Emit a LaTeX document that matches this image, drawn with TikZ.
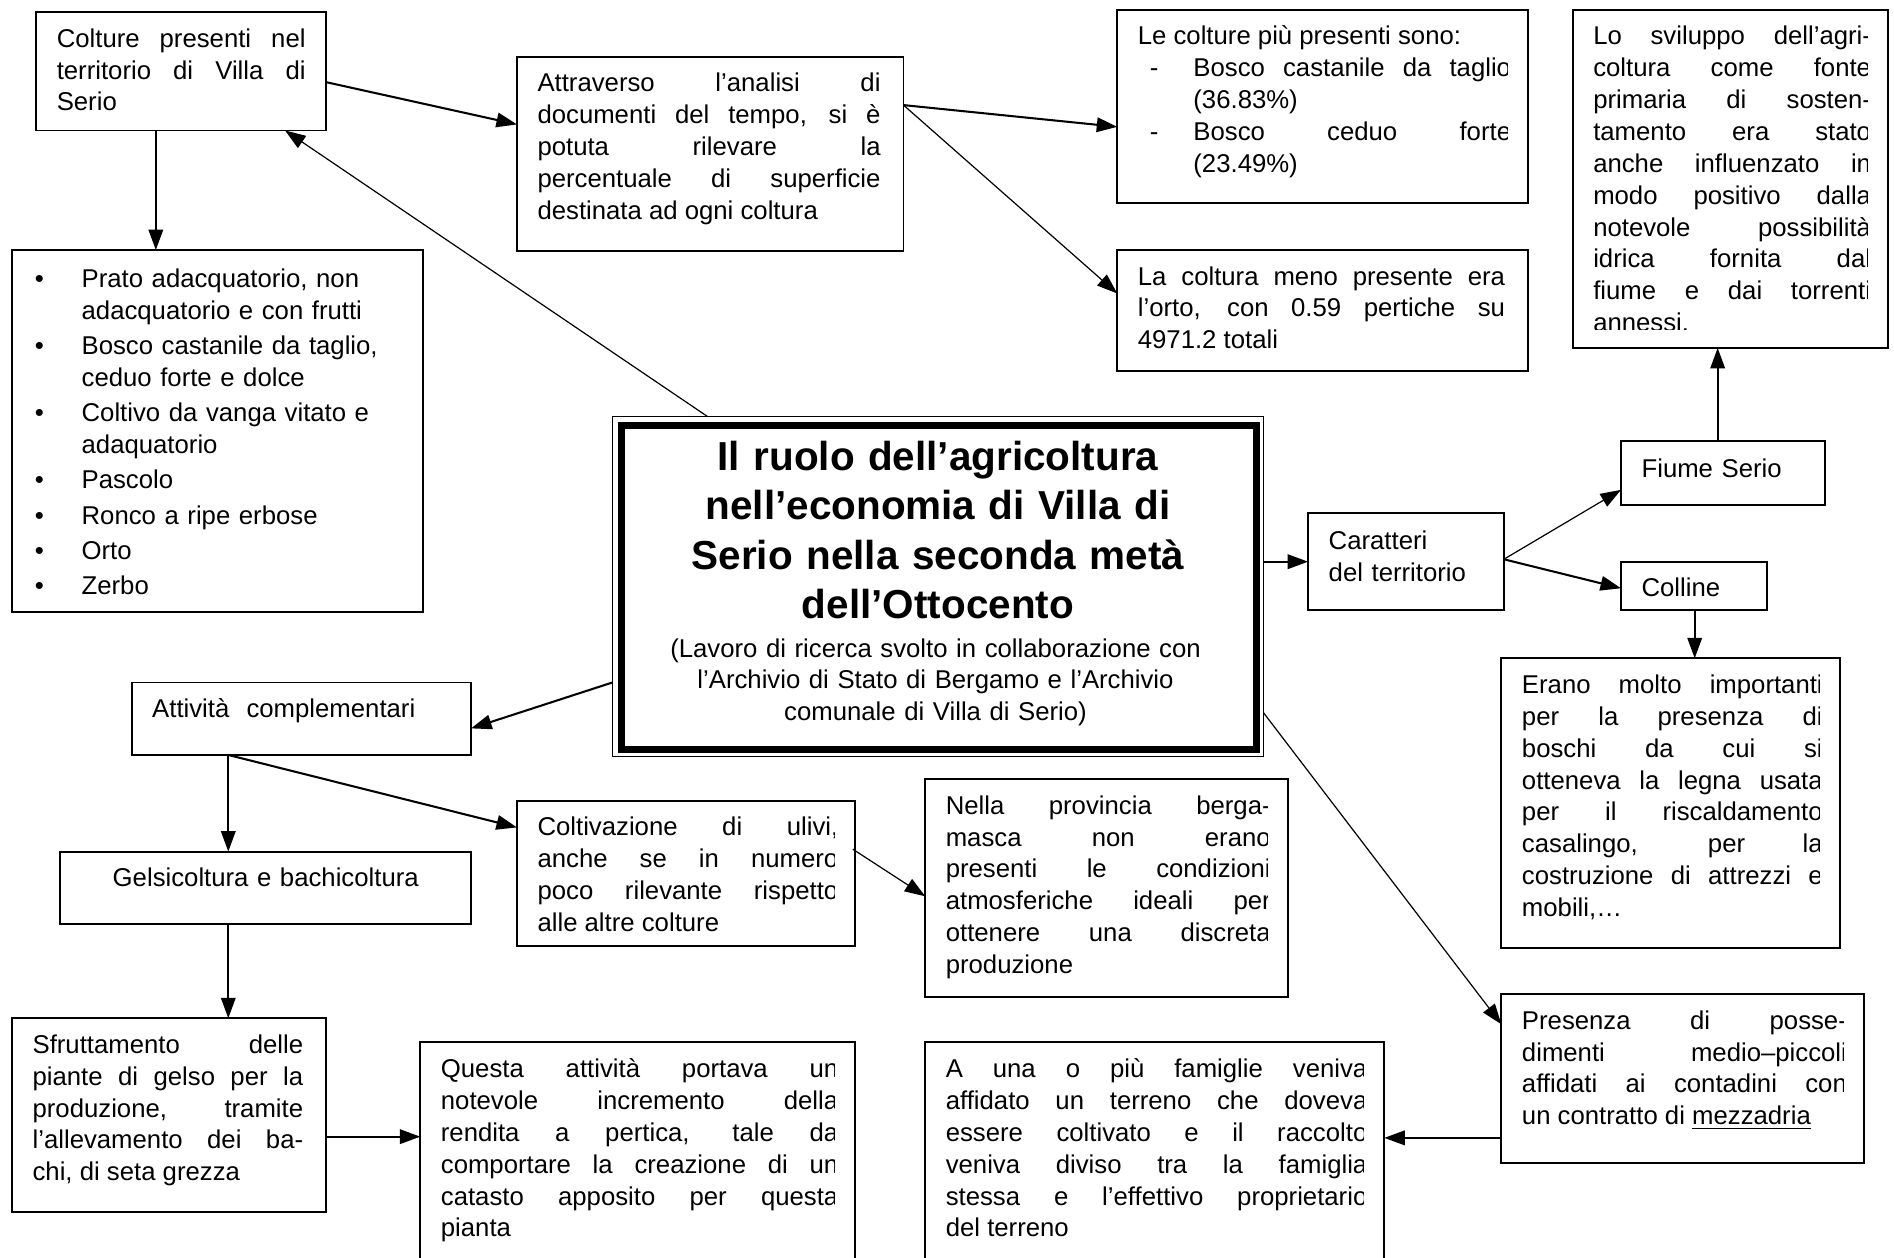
\documentclass[tikz,border=0pt]{standalone}
\usepackage{fontspec}
\setmainfont{Liberation Sans}
\usetikzlibrary{arrows.meta,calc}
\newcommand\bodyfont{\fontsize{10.65}{13.2}\selectfont}
\newcommand\titlefont{\fontsize{16.75}{20.5}\selectfont\bfseries}
\newcommand\jset{\parindent=0pt\tolerance=10000\hyphenpenalty=10000\exhyphenpenalty=10000\hbadness=10000}
\tikzset{
  bx/.style={draw, line width=0.8pt, inner sep=0pt, outer sep=0pt, rectangle, anchor=north west},
  tx/.style={inner sep=0pt, outer sep=0pt, anchor=north west, font=\bodyfont\jset, align=justify},
  arr/.style={line width=0.85pt, -{Triangle[length=8.5pt,width=6pt]}},
  thinarr/.style={arr, line width=0.5pt},
}
% #1 opts, #2 name, #3 x1, #4 y1, #5 x2, #6 y2, #7 text width (px), #8 bottom clip inset, #9 text
\newcommand\tb[9][]{%
  \pgfmathsetmacro\tbmw{(#5-#3)*0.5}%
  \pgfmathsetmacro\tbmh{(#6-#4)*0.5}%
  \pgfmathsetmacro\tbtw{(#7)*0.5}%
  \node[bx, minimum width=\tbmw pt, minimum height=\tbmh pt] (#2) at (#3,#4) {};
  \begin{scope}
    \clip (#3+6,#4+2) rectangle (#5-17,#6-#8);
    \node[tx, text width=\tbtw pt, #1] (#2t) at (#3+17,#4) {\rule{0pt}{14.5pt}#9};
  \end{scope}}
\newcommand\bul{\noindent\llap{\makebox[19.4pt][l]{•}}}
\newcommand\dsh{\noindent\llap{\makebox[18pt][l]{-}}}
\begin{document}
\begin{tikzpicture}[x=0.5pt,y=-0.5pt]
\fill[white] (0,0) rectangle (1568,1041);
\useasboundingbox (0,0) rectangle (1568,1041);

\tb{A}{30}{10}{270}{108}{206}{2}{Colture presenti nel\linebreak territorio di Villa di\linebreak Serio}
\tb{B}{428}{47}{748}{208}{284}{2}{Attraverso l’analisi di\linebreak documenti del tempo, si è\linebreak potuta rilevare la\linebreak percentuale di superficie\linebreak destinata ad ogni coltura}
\tb{C}{925}{8}{1265}{168}{309}{2}{Le colture più presenti sono:\par
  \leftskip=23pt \dsh Bosco castanile da taglio\linebreak (36.83\%)\par
  \dsh Bosco ceduo forte\linebreak (23.49\%)\par}
\tb{D}{1302}{8}{1563}{288}{230}{15}{Lo sviluppo dell’agri-\linebreak coltura come fonte\linebreak primaria di sosten-\linebreak tamento era stato\linebreak anche influenzato in\linebreak modo positivo dalla\linebreak notevole possibilità\linebreak idrica fornita dal\linebreak fiume e dai torrenti\linebreak annessi.}
\tb{E}{925}{207}{1265}{307}{304}{2}{La coltura meno presente era\linebreak l’orto, con 0.59 pertiche su\linebreak 4971.2 totali}
\tb[align=left]{F}{10}{207}{350}{507}{320}{2}{\rule{0pt}{15.5pt}\leftskip=20.3pt\parskip=1.4pt
  \bul Prato adacquatorio, non\newline adacquatorio e con frutti\par
  \bul Bosco castanile da taglio,\newline ceduo forte e dolce\par
  \bul Coltivo da vanga vitato e\newline adaquatorio\par
  \bul Pascolo\par
  \bul Ronco a ripe erbose\par
  \bul Orto\par
  \bul Zerbo\par}
\tb[align=left]{H}{1083}{425}{1245}{505}{126}{2}{\rule{0pt}{15pt}Caratteri\newline del territorio}
\tb[align=left]{I}{1342}{365}{1511}{418}{133}{2}{\rule{0pt}{15pt}Fiume Serio}
\tb[align=left]{J}{1342}{465}{1463}{505}{85}{2}{Colline}
\tb{K}{1243}{545}{1523}{785}{249}{2}{Erano molto importanti\linebreak per la presenza di\linebreak boschi da cui si\linebreak otteneva la legna usata\linebreak per il riscaldamento\linebreak casalingo, per la\linebreak costruzione di attrezzi e\linebreak mobili,…}
\tb[align=left]{L}{109}{565}{390}{625}{245}{2}{Attività~ complementari}
\tb[align=center]{M}{50}{705}{390}{765}{306}{2}{Gelsicoltura e bachicoltura}
\tb{N}{428}{663}{708}{783}{249}{2}{Coltivazione di ulivi,\linebreak anche se in numero\linebreak poco rilevante rispetto\linebreak alle altre colture}
\tb{O}{766}{645}{1066}{825}{269}{2}{Nella provincia berga-\linebreak masca non erano\linebreak presenti le condizioni\linebreak atmosferiche ideali per\linebreak ottenere una discreta\linebreak produzione}
\tb{P}{10}{843}{270}{1003}{224}{2}{Sfruttamento delle\linebreak piante di gelso per la\linebreak produzione, tramite\linebreak l’allevamento dei ba-\linebreak chi, di seta grezza}
\tb{Q}{348}{863}{708}{1060}{329}{2}{Questa attività portava un\linebreak notevole incremento della\linebreak rendita a pertica, tale da\linebreak comportare la creazione di un\linebreak catasto apposito per questa\linebreak pianta}
\tb{R}{766}{863}{1146}{1060}{349}{2}{A una o più famiglie veniva\linebreak affidato un terreno che doveva\linebreak essere coltivato e il raccolto\linebreak veniva diviso tra la famiglia\linebreak stessa e l’effettivo proprietario\linebreak del terreno}
\tb{S}{1243}{823}{1543}{963}{269}{2}{Presenza di posse-\linebreak dimenti medio–piccoli\linebreak affidati ai contadini con\linebreak un contratto di \underline{mezzadria}}

% central box
\node[draw, line width=0.5pt, inner sep=0pt, outer sep=0pt, anchor=north west,
      minimum width=269.5pt, minimum height=140.5pt] (G) at (507,345) {};
\draw[line width=2.9pt] ($(G.north west)+(7.5,7)$) rectangle ($(G.south east)+(-5.5,-5.5)$);
\node[font=\titlefont, align=center, text width=250pt, anchor=north, inner sep=0pt] (Gt) at (G.north)
  {\rule{0pt}{22pt}Il ruolo dell’agricoltura\\ nell’economia di Villa di\\ Serio nella seconda metà\\ dell’Ottocento};
\node[font=\bodyfont, align=center, text width=250pt, anchor=north, inner sep=0pt] (Gs) at ($(G.north)+(-2,169.5)$)
  {\rule{0pt}{14.5pt}(Lavoro di ricerca svolto in collaborazione con\\ l’Archivio di Stato di Bergamo e l’Archivio\\ comunale di Villa di Serio)};

% connectors
\draw[arr] ($(A.east)+(0,9)$) -- ($(B.west)+(0,-24.5)$);
\coordinate (a2) at ($(A.south)+(-21,0)$);
\draw[arr] (a2) -- (a2 |- F.north);
\draw[thinarr] ($(G.north)+(-190.5,0)$) -- ($(A.south)+(86,0)$);
\coordinate (b4) at ($(B.east)+(0,-40.5)$);
\draw[arr] (b4) -- ($(C.west)+(0,17)$);
\draw[thinarr] (b4) -- ($(E.west)+(0,-14)$);
\coordinate (g6) at ($(G.east)+(0,-20.5)$);
\draw[arr] (g6) -- (g6 -| H.west);
\draw[thinarr] ($(H.east)+(0,-2)$) -- ($(I.west)+(0,14)$);
\draw[arr] ($(H.east)+(0,-2)$) -- ($(J.west)+(0,2)$);
\coordinate (i9) at ($(I.north)+(-4.5,0)$);
\draw[arr] (i9) -- (i9 |- D.south);
\coordinate (j10) at ($(J.south)+(0.5,0)$);
\draw[arr] (j10) -- (j10 |- K.north);
\draw[arr] ($(G.west)+(0,79.5)$) -- ($(L.east)+(0,8)$);
\coordinate (l12) at ($(L.south)+(-60.5,0)$);
\draw[arr] (l12) -- (l12 |- M.north);
\draw[arr] (l12) -- ($(N.west)+(0,-38)$);
\draw[thinarr] ($(N.east)+(-2,-20)$) -- ($(O.west)+(0,7)$);
\coordinate (m15) at ($(M.south)+(-31,0)$);
\draw[arr] (m15) -- (m15 |- P.north);
\coordinate (p16) at ($(P.east)+(0,18)$);
\draw[arr] (p16) -- (p16 -| Q.west);
\draw[thinarr] ($(G.south east)+(0,-36)$) -- ($(S.north west)+(0,25)$);
\coordinate (s18) at ($(S.west)+(0,49)$);
\draw[arr] (s18) -- (s18 -| R.east);
\end{tikzpicture}
\end{document}
